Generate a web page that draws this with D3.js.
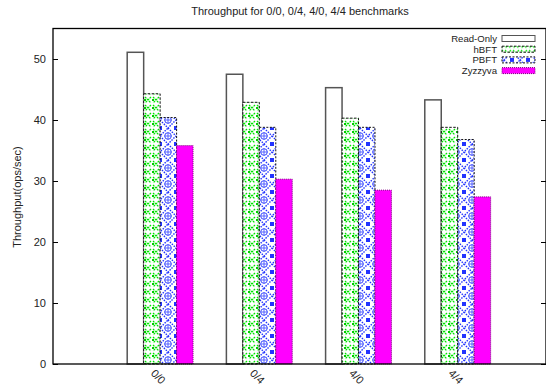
<!DOCTYPE html>
<html>
<head>
<meta charset="utf-8">
<script src="https://cdn.jsdelivr.net/npm/d3@7"></script>
<style>
  html, body { margin: 0; padding: 0; background: #fff; }
  svg { display: block; font-family: "Liberation Sans", Arial, sans-serif; }
</style>
</head>
<body>
<div id="chart"></div>
<script>
// Chart data
const benchmarks = ["0/0", "0/4", "4/0", "4/4"];
const seriesNames = ["Read-Only", "hBFT", "PBFT", "Zyzzyva"];
const readOnly = [51.1, 47.5, 45.3, 43.3];
const hBFT = [44.3, 42.9, 40.3, 38.8];
const PBFT = [40.4, 38.8, 38.8, 36.8];
const zyzzyva = [35.8, 30.3, 28.5, 27.4];
const yTicks = [0, 10, 20, 30, 40, 50];

const seriesValues = [readOnly, hBFT, PBFT, zyzzyva];

const W = 546, H = 386;
const plot = {left: 53, right: 546, top: 28.5, bottom: 364};

const svg = d3.select("#chart").append("svg")
    .attr("width", W).attr("height", H);

// Fill patterns for the bars
const defs = svg.append("defs");

const pg = defs.append("pattern").attr("id", "pat-hbft")
    .attr("patternUnits", "userSpaceOnUse").attr("width", 8).attr("height", 8);
pg.append("rect").attr("width", 8).attr("height", 8).attr("fill", "#fff");
pg.append("path").attr("d", "M1,1L7,7M7,1L1,7")
    .attr("stroke", "#00e600").attr("stroke-width", 1.3).attr("stroke-dasharray", "2,0.8");
pg.append("rect").attr("x", 0).attr("y", 3).attr("width", 2).attr("height", 2).attr("fill", "#00cc00");

const pb = defs.append("pattern").attr("id", "pat-pbft")
    .attr("patternUnits", "userSpaceOnUse").attr("width", 16).attr("height", 16);
pb.append("rect").attr("width", 16).attr("height", 16).attr("fill", "#fff");
pb.append("path").attr("d", "M8,0L16,8L8,16L0,8Z")
    .attr("fill", "none").attr("stroke", "#2233ff").attr("stroke-width", 1.4).attr("stroke-dasharray", "1.5,1.2");
pb.append("circle").attr("cx", 8).attr("cy", 8).attr("r", 3.3)
    .attr("fill", "none").attr("stroke", "#3344ff").attr("stroke-width", 1);
pb.append("path").attr("d", "M8,4.5V11.5M4.5,8H11.5")
    .attr("stroke", "#3344ff").attr("stroke-width", 0.8);
pb.append("path").attr("d", "M0,0h2v2h-2zM14,0h2v2h-2zM0,14h2v2h-2zM14,14h2v2h-2z")
    .attr("fill", "#2233ff");

const styles = [
    {fill: "#fff", stroke: "#555", width: 1.5, dash: null},
    {fill: "url(#pat-hbft)", stroke: "#111", width: 1, dash: "2.5,1.5"},
    {fill: "url(#pat-pbft)", stroke: "#111", width: 1, dash: "2,1.5"},
    {fill: "#ff00ff", stroke: "#800080", width: 1, dash: "1,1"}
];

// Scales
const x = d3.scaleLinear().domain([-1.08, 3.89]).range([plot.left, plot.right]);
const y = d3.scaleLinear().domain([0, 55]).range([plot.bottom, plot.top]);
const barW = 0.166;

// Bars
const rows = [];
seriesValues.forEach((vals, s) => {
    vals.forEach((v, i) => rows.push({s, i, v}));
});

svg.append("g").selectAll("rect").data(rows).join("rect")
    .attr("x", d => x(d.i + (d.s - 2) * barW))
    .attr("y", d => y(d.v))
    .attr("width", x(barW) - x(0))
    .attr("height", d => y(0) - y(d.v))
    .attr("fill", d => styles[d.s].fill)
    .attr("stroke", d => styles[d.s].stroke)
    .attr("stroke-width", d => styles[d.s].width)
    .attr("stroke-dasharray", d => styles[d.s].dash);

// Axes
svg.append("g").attr("transform", `translate(${plot.left},0)`)
    .call(d3.axisRight(y).tickValues(yTicks).tickSize(5).tickFormat(""))
    .select(".domain").remove();
svg.append("g").attr("transform", `translate(${plot.right},0)`)
    .call(d3.axisLeft(y).tickValues(yTicks).tickSize(5).tickFormat(""))
    .select(".domain").remove();

svg.append("g").selectAll("text").data(yTicks).join("text")
    .attr("x", plot.left - 7).attr("y", d => y(d)).attr("dy", "0.35em")
    .attr("text-anchor", "end").attr("font-size", 11).attr("fill", "#222")
    .text(d => d);

svg.append("rect")
    .attr("x", plot.left).attr("y", plot.top)
    .attr("width", plot.right - plot.left).attr("height", plot.bottom - plot.top)
    .attr("fill", "none").attr("stroke", "#000").attr("stroke-width", 1.3);

svg.append("g").selectAll("text").data(benchmarks).join("text")
    .attr("transform", (d, i) => `translate(${x(i) - 10},${plot.bottom + 10}) rotate(45)`)
    .attr("font-size", 11).attr("fill", "#222")
    .text(d => d);

// Title and axis label
svg.append("text").attr("x", 300).attr("y", 15)
    .attr("text-anchor", "middle").attr("font-size", 11).attr("fill", "#222")
    .text("Throughput for 0/0, 0/4, 4/0, 4/4 benchmarks");

svg.append("text").attr("transform", `translate(21,197) rotate(-90)`)
    .attr("text-anchor", "middle").attr("font-size", 11).attr("fill", "#222")
    .text("Throughput(ops/sec)");

// Legend
const legend = svg.append("g").selectAll("g").data(seriesNames).join("g")
    .attr("transform", (d, i) => `translate(0,${38.5 + i * 10.7})`);
legend.append("text").attr("x", 497).attr("dy", "0.35em")
    .attr("text-anchor", "end").attr("font-size", 9.6).attr("fill", "#222")
    .text(d => d);
legend.append("rect").attr("x", 502).attr("y", -3).attr("width", 33).attr("height", 6)
    .attr("fill", (d, i) => styles[i].fill)
    .attr("stroke", (d, i) => styles[i].stroke)
    .attr("stroke-width", 1)
    .attr("stroke-dasharray", (d, i) => styles[i].dash);
</script>
</body>
</html>
